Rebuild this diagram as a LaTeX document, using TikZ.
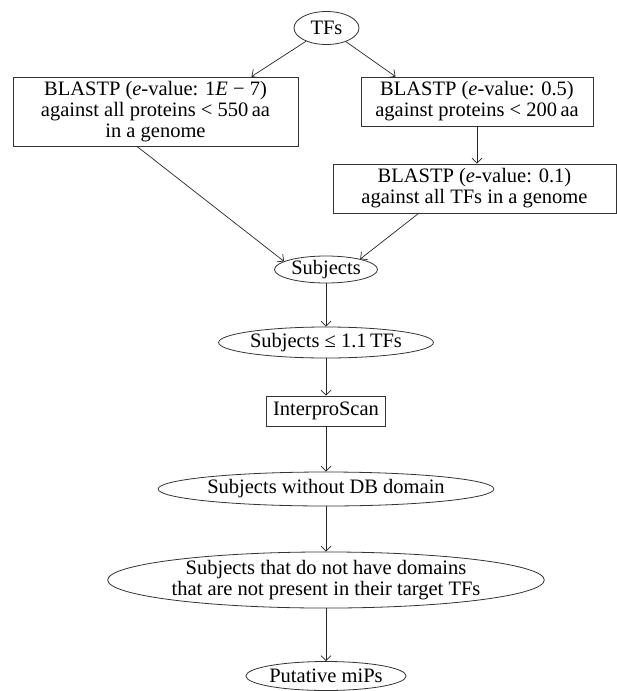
\documentclass[tikz,border=0pt]{standalone}
\usepackage{fontspec}
\setmainfont{Liberation Serif}
\usetikzlibrary{shapes.geometric,arrows.meta}
\begin{document}
\begin{tikzpicture}[x=1pt,y=-1pt,
  >={Straight Barb[length=5pt,width=10pt]},
  txt/.style={font=\fontsize{20.5}{21}\selectfont, align=center, inner sep=0pt, draw=black!80, line width=0.8pt},
  oval/.style={txt, ellipse},
  blk/.style={txt, rectangle},
  arr/.style={->, line width=0.7pt, black!85}]
  \useasboundingbox (0,0) rectangle (617,691);

  % Top: the TFs and the two BLASTP branches
  \node[oval, minimum width=65pt, minimum height=33pt] (tfs) at (326.5,28) {TFs};
  \node[blk, minimum width=285pt, minimum height=69pt] (lbox) at (155.5,111.5)
    {BLASTP (\textit{e}-value: 1\textit{E} − 7)\\against all proteins < 550\,aa\\in a genome};
  \node[blk, minimum width=232pt, minimum height=49pt] (rbox) at (477,101.5)
    {BLASTP (\textit{e}-value: 0.5)\\against proteins < 200\,aa};
  \node[blk, minimum width=283pt, minimum height=49pt] (rboxb) at (474.5,188.5)
    {BLASTP (\textit{e}-value: 0.1)\\against all TFs in a genome};

  % Middle column
  \node[oval, minimum width=103pt, minimum height=27pt] (subj) at (326,269.5) {Subjects};
  \node[oval, minimum width=197pt, minimum height=31pt] (subjle) at (326,342.5) {Subjects ≤ 1.1\,TFs};
  \node[blk, minimum width=119pt, minimum height=30pt] (ipscan) at (326,411) {InterproScan};
  \node[oval, minimum width=325pt, minimum height=34pt] (nodb) at (326,489) {Subjects without DB domain};
  \node[oval, minimum width=415pt, minimum height=56pt] (nodom) at (326,580)
    {Subjects that do not have domains\\that are not present in their target TFs};
  \node[oval, minimum width=152pt, minimum height=29pt] (mips) at (326,676) {Putative miPs};

  % Connectors
  \draw[arr] (tfs) -- (lbox.20);
  \draw[arr] (tfs) -- (rbox.163.6);
  \draw[arr] (rbox.south) -- (rboxb.north -| rbox.south);
  \draw[arr] (lbox.-118) -- (subj.169);
  \draw[arr] (rboxb.-156.6) -- (subj.17);
  \draw[arr] (subj) -- (subjle);
  \draw[arr] (subjle) -- (ipscan);
  \draw[arr] (ipscan) -- (nodb);
  \draw[arr] (nodb) -- (nodom);
  \draw[arr] (nodom) -- (mips);
\end{tikzpicture}
\end{document}
